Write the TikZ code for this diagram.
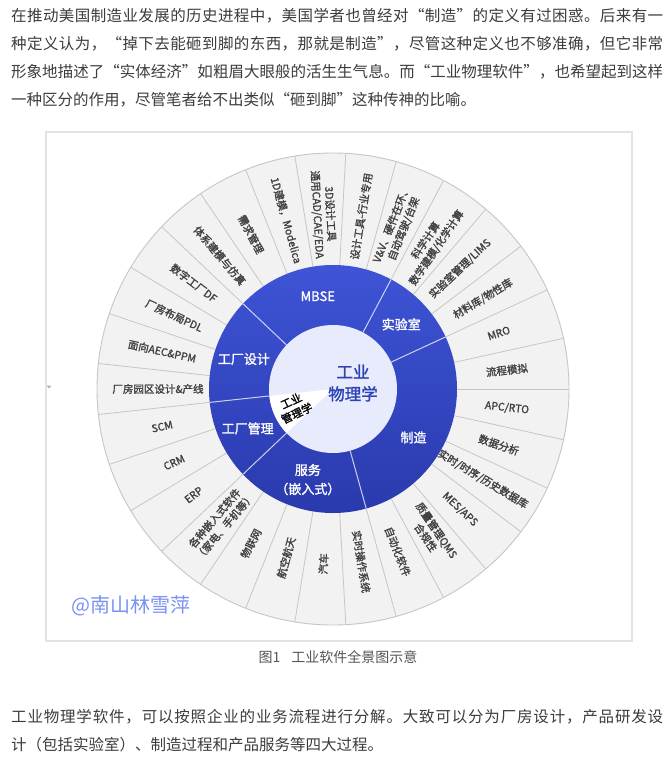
\documentclass[tikz,border=0pt]{standalone}
\usepackage{fontspec}
\setmainfont{Noto Sans CJK SC}
\newfontfamily\cjkbold{Noto Sans CJK SC}[FakeBold=1.6]
\newfontfamily\cjkmid{Noto Sans CJK SC}[FakeBold=1.5]
\definecolor{txt}{HTML}{3C3C3C}
\definecolor{ringgray}{HTML}{F2F2F2}
\definecolor{divgray}{HTML}{C6C6C6}
\definecolor{labgray}{HTML}{404040}
\definecolor{bluetop}{HTML}{3E54D6}
\definecolor{bluebot}{HTML}{2A3AAD}
\definecolor{innerfill}{HTML}{E7EBFB}
\definecolor{innertxt}{HTML}{2C43B6}
\definecolor{wmblue}{HTML}{7B93F2}
\definecolor{capgray}{HTML}{555555}
\definecolor{framegray}{HTML}{E3E3E3}
\makeatletter
\newcommand\spreadline[2]{\hbox to #1{\def\sp@sep{}\@tfor\sp@ch:=#2\do{\sp@sep\sp@ch\def\sp@sep{\hss}}}}
\makeatother
\newcommand\olab[3]{%
  \pgfmathsetmacro\oa{(#2+0.5)*360/29}%
  \pgfmathsetmacro\orot{ifthenelse(and(\oa>90,\oa<270),\oa-180,\oa)}%
  \node[olabel, rotate=\orot] (#1) at (\oa:175pt) {#3};%
}
\begin{document}
\begin{tikzpicture}[x=1pt,y=-1pt,
  para/.style={inner sep=0pt, anchor=west, text=txt, font=\fontsize{15.5}{18}\selectfont},
  olabel/.style={inner sep=0pt, align=center, text=labgray, font=\cjkmid\fontsize{10.5}{13}\selectfont},
  blab/.style={inner sep=0pt, align=center, text=white, font=\cjkbold\fontsize{13}{19}\selectfont},
  ]
\useasboundingbox (0,0) rectangle (665,761);
\fill[white] (0,0) rectangle (665,761);

% paragraphs
\node[para] (p1) at (11,16) {\spreadline{652pt}{在推动美国制造业发展的历史进程中，美国学者也曾经对“制造”的定义有过困惑。后来有一}};
\node[para] (p2) at (11,44) {\spreadline{652pt}{种定义认为，“掉下去能砸到脚的东西，那就是制造”，尽管这种定义也不够准确，但它非常}};
\node[para] (p3) at (11,72) {\spreadline{652pt}{形象地描述了“实体经济”如粗眉大眼般的活生生气息。而“工业物理软件”，也希望起到这样}};
\node[para] (p4) at (11,100) {一种区分的作用，尽管笔者给不出类似“砸到脚”这种传神的比喻。};

% frame
\draw[framegray, line width=1.2pt] (46,132) rectangle (632,641);
\fill[gray!60] (46.5,385.5) -- (51.5,385.5) -- (49,388.5) -- cycle;

% sunburst
\begin{scope}[shift={(333,389)}]
  \fill[ringgray] (0,0) circle (236pt);
  \foreach \k in {0,...,28} \draw[divgray, line width=0.8pt] (\k*360/29:124pt) -- (\k*360/29:236pt);
  \draw[divgray, line width=0.9pt] (0,0) circle (236pt);
  \shade[top color=bluetop, bottom color=bluebot] (0,0) circle (124pt);
  \foreach \k in {2,5,11,15,18,23} \draw[white, opacity=0.75, line width=1pt] (\k*360/29:64pt) -- (\k*360/29:124pt);
  \fill[innerfill] (0,0) circle (64pt);
  \fill[white] (0,0) -- (15*360/29:64pt) arc[start angle=15*360/29, end angle=18*360/29, radius=64pt] -- cycle;

  \olab{o0}{0}{流程模拟}
  \olab{o1}{1}{MRO}
  \olab{o2}{2}{材料库/物性库}
  \olab{o3}{3}{实验室管理/LIMS}
  \olab{o4}{4}{科学计算\\数学建模/化学计算}
  \olab{o5}{5}{V\&V、硬件在环、\\自动驾驶/台架}
  \olab{o6}{6}{设计工具-行业专用}
  \olab{o7}{7}{3D设计工具\\通用CAD/CAE/EDA}
  \olab{o8}{8}{1D建模，Modelica}
  \olab{o9}{9}{需求管理}
  \olab{o10}{10}{体系建模与仿真}
  \olab{o11}{11}{数字工厂DF}
  \olab{o12}{12}{厂房布局PDL}
  \olab{o13}{13}{面向AEC\&PPM}
  \olab{o14}{14}{厂房园区设计\&产线}
  \olab{o15}{15}{SCM}
  \olab{o16}{16}{CRM}
  \olab{o17}{17}{ERP}
  \olab{o18}{18}{各种嵌入式软件\\（家电、手机等）}
  \olab{o19}{19}{物联网}
  \olab{o20}{20}{航空航天}
  \olab{o21}{21}{汽车}
  \olab{o22}{22}{实时操作系统}
  \olab{o23}{23}{自动化软件}
  \olab{o24}{24}{质量管理QMS\\合规性}
  \olab{o25}{25}{MES/APS}
  \olab{o26}{26}{实时/时序/历史数据库}
  \olab{o27}{27}{数据分析}
  \olab{o28}{28}{APC/RTO}

  \node[blab] (mbse) at (8*360/29:94pt) {MBSE};
  \node[blab] (lab) at (3.5*360/29:94pt) {实验室};
  \node[blab] (mfg) at (-2.5*360/29:94pt) {制造};
  \node[blab] (svc) at (20.5*360/29:94pt) {服务\\（嵌入式）};
  \node[blab] (fmgmt) at (16.5*360/29:94pt) {工厂管理};
  \node[blab] (fdes) at (13*360/29:94pt) {工厂设计};

  \node[inner sep=0pt, align=center, text=innertxt, font=\cjkbold\fontsize{16.5}{22}\selectfont] (core) at (20,-6) {工业\\物理学};
  \node[inner sep=0pt, align=center, text=black, rotate=25, font=\cjkmid\fontsize{11}{13.5}\selectfont] (imgmt) at (205:43pt) {工业\\管理学};
\end{scope}

\node[inner sep=0pt, anchor=west, text=wmblue, font=\fontsize{20}{22}\selectfont] (wm) at (71,606) {@南山林雪萍};

\node[inner sep=0pt, text=capgray, font=\fontsize{14}{16}\selectfont] (cap) at (338,657) {图1\hspace{0.8em}工业软件全景图示意};

\node[para] (b1) at (11,717) {\spreadline{652pt}{工业物理学软件，可以按照企业的业务流程进行分解。大致可以分为厂房设计，产品研发设}};
\node[para] (b2) at (11,745) {计（包括实验室）、制造过程和产品服务等四大过程。};
\end{tikzpicture}
\end{document}
